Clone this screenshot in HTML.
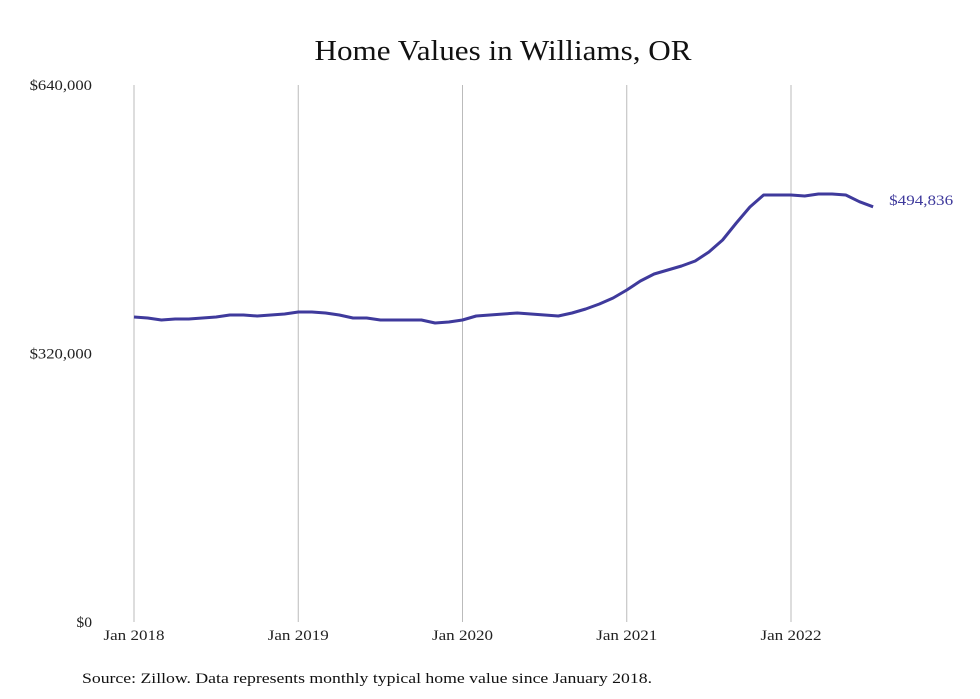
<!DOCTYPE html>
<html><head><meta charset="utf-8"><style>
body{margin:0;background:#fff;}
svg{display:block;font-family:"Liberation Serif",serif;}
</style></head><body>
<svg width="980" height="699">
<text x="503" y="60" text-anchor="middle" font-size="29" textLength="377" lengthAdjust="spacingAndGlyphs" fill="#111">Home Values in Williams, OR</text>
<g id="grid"></g><g id="yaxis"></g><g id="xaxis"></g>
<path id="line" fill="none" stroke="#3f3a9c" stroke-width="3" stroke-linejoin="round"/>
<text id="endlabel" font-size="15" fill="#3f3a9c" textLength="64" lengthAdjust="spacingAndGlyphs"></text>
<text x="82" y="683" font-size="15" fill="#111" textLength="570" lengthAdjust="spacingAndGlyphs">Source: Zillow. Data represents monthly typical home value since January 2018.</text>
</svg>
<script>
const yTicks=[0,320000,640000];
const yTickLabels=["$0","$320,000","$640,000"];
const xTickMonths=[0,12,24,36,48];
const xTickLabels=["Jan 2018","Jan 2019","Jan 2020","Jan 2021","Jan 2022"];
const values=[363500,362300,359900,361100,361100,362300,363500,365900,365900,364700,365900,367100,
369500,369500,368300,365900,362300,362300,359900,359900,359900,359900,356400,357500,
359900,364700,365900,367100,368300,367100,365900,364700,368300,373000,379000,386100,
395700,406400,414700,419500,424300,430200,441000,455300,475500,494600,508900,508900,
508900,507700,510100,510100,508900,500900,494836];
const endLabel="$494,836";
const NS="http://www.w3.org/2000/svg";
const x=m=>134+m*(791-134)/48;
const y=v=>622-v*(622-85)/640000;
function mk(t,a,p){const e=document.createElementNS(NS,t);for(const k in a)e.setAttribute(k,a[k]);p.appendChild(e);return e;}
const grid=document.getElementById('grid'),ya=document.getElementById('yaxis'),xa=document.getElementById('xaxis');
xTickMonths.forEach((m,i)=>{
 const l=mk('line',{x1:x(m),x2:x(m),y1:85,y2:622,stroke:'#bbb','stroke-width':1},grid);
 
 
 const t=mk('text',{x:x(m),y:640,'text-anchor':'middle','font-size':15,fill:'#222',textLength:61,lengthAdjust:'spacingAndGlyphs'},xa);
 t.textContent=xTickLabels[i];
 
 
});
yTicks.forEach((v,i)=>{
 const t=mk('text',{x:92,y:y(v)+5,'text-anchor':'end','font-size':15,fill:'#222',textLength:yTickLabels[i].length*7.8,lengthAdjust:'spacingAndGlyphs'},ya);
 t.textContent=yTickLabels[i];
 
 
});
document.getElementById('line').setAttribute('d',values.map((v,i)=>(i?'L':'M')+x(i).toFixed(1)+','+y(v).toFixed(1)).join(''));
const el=document.getElementById('endlabel');const li=values.length-1;
el.setAttribute('x',x(li)+16);el.setAttribute('y',y(values[li])-2);el.textContent=endLabel;
</script>
</body></html>
